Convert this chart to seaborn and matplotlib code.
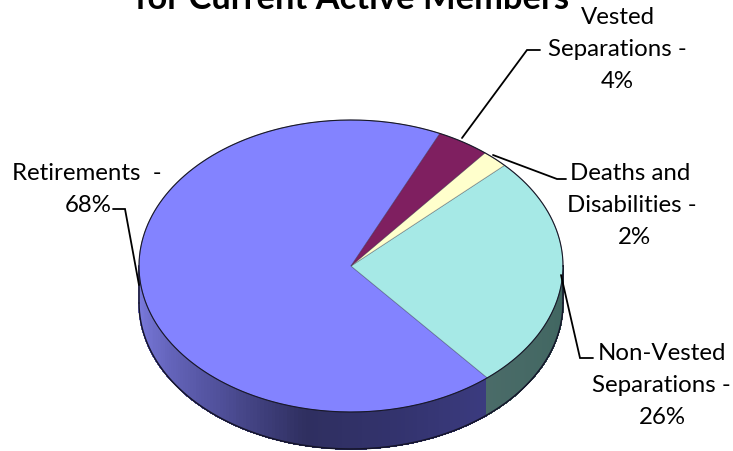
import numpy as np
import matplotlib
matplotlib.use("Agg")
import matplotlib.pyplot as plt
from matplotlib.collections import PolyCollection
import seaborn as sns

categories = ["Retirements", "Non-Vested Separations", "Deaths and Disabilities", "Vested Separations"]
values = [68, 26, 2, 4]
top_colors = ["#8383FF", "#A6E9E6", "#FFFFCC", "#7F1F60"]
title_text = "for Current Active Members"

W, H = 733, 451
CX, CY, RX, RY, DEPTH = 351, 266, 212, 146, 37

sns.set_theme(style="white")
plt.rcParams["font.family"] = ["Lato", "DejaVu Sans"]

fig = plt.figure(figsize=(W / 100, H / 100), dpi=100, facecolor="white")
ax = fig.add_axes([0, 0, 1, 1])


def P(x, y):
    return (x - CX) / RX, (CY - y) / RY


start = 65.2
edges = start + np.cumsum([0] + values) * 3.6
side_ramps = [
    sns.blend_palette(["#8080E6", "#6A6AC4", "#50509A", "#2F2F60", "#33336E", "#3B3B7F"], 120),
    sns.blend_palette(["#4A6B68", "#3F6660"], 120),
]

depth = DEPTH / RY
polys, cols = [], []
for i, col in enumerate(side_ramps):
    lo = max(edges[i], 180.0)
    hi = min(edges[i + 1], 360.0)
    ts = np.linspace(lo, hi, len(col) + 1)
    for j in range(len(col)):
        t = np.radians(ts[j:j + 2])
        x, y = np.cos(t), np.sin(t)
        polys.append([(x[0], y[0]), (x[1], y[1]), (x[1], y[1] - depth), (x[0], y[0] - depth)])
        cols.append(col[j])

wedges, _ = ax.pie(values, colors=top_colors, startangle=start, center=(0, 0), radius=1,
                   wedgeprops=dict(edgecolor=(0.1, 0.1, 0.2, 0.35), linewidth=0.6, zorder=3))
ax.add_collection(PolyCollection(polys, facecolors=cols, edgecolors=cols, linewidths=0.6,
                                 antialiased=False, zorder=1))

# dark outlines of the rim and the wall
t = np.radians(np.linspace(0, 360, 400))
ax.plot(np.cos(t), np.sin(t), color="#181828", lw=0.8, zorder=4)
t = np.radians(np.linspace(180, 360, 200))
ax.plot(np.cos(t), np.sin(t) - depth, color="#15152A", lw=1.1, zorder=2)
ax.plot([-1, -1], [0, -depth], color="#15152A", lw=1.1, zorder=2)
ax.plot([1, 1], [0, -depth], color="#15152A", lw=1.1, zorder=2)

ax.set_aspect("auto")
ax.set_xlim(P(0, 0)[0], P(W, 0)[0])
ax.set_ylim(P(0, H)[1], P(0, 0)[1])
ax.axis("off")

# leader lines
leaders = [
    [(113, 209), (125, 209), (139, 285)],
    [(462, 138), (527, 50), (540, 50)],
    [(493, 155), (557, 179), (566, 179)],
    [(561, 275), (580, 358), (593, 358)],
]
for pts in leaders:
    xy = np.array([P(*p) for p in pts])
    ax.plot(xy[:, 0], xy[:, 1], color="black", lw=1.3, zorder=5, solid_joinstyle="miter")

labels = [
    (["Retirements  -", f"{values[0]}%"], [(87, 173), (88, 205)]),
    (["Vested", "Separations -", f"{values[3]}%"], [(618, 17), (617, 49), (617, 81)]),
    (["Deaths and", "Disabilities -", f"{values[2]}%"], [(630, 174), (632, 206), (634, 238)]),
    (["Non-Vested", "Separations -", f"{values[1]}%"], [(662, 353), (661, 385), (662, 417)]),
]
for lines, pos in labels:
    for s, p in zip(lines, pos):
        x, y = P(*p)
        ax.text(x, y, s, fontsize=17.3, ha="center", va="center", color="black", zorder=6)

x, y = P(352, 9)
ax.text(x, y, title_text, fontsize=24.8, fontweight="bold", ha="center", va="baseline",
        color="black", zorder=6)

fig.savefig("out.png", dpi=100, facecolor="white")
